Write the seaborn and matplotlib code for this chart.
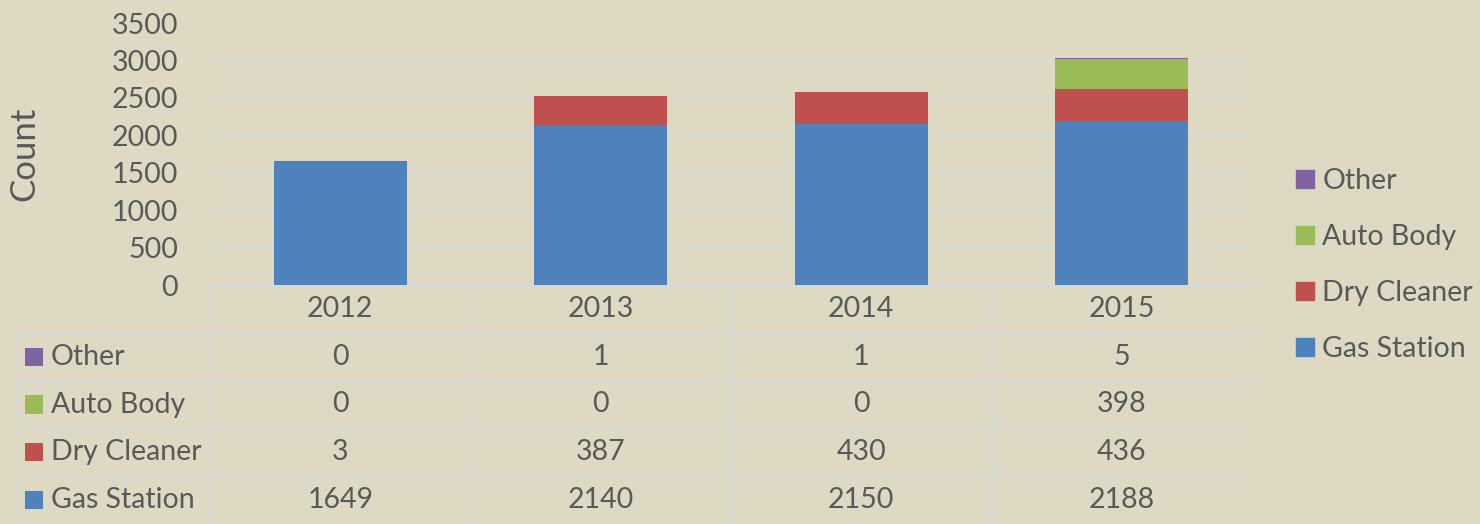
import numpy as np
import pandas as pd
import matplotlib
matplotlib.use("Agg")
import matplotlib.pyplot as plt
import matplotlib.patches as mpatches
import seaborn as sns

years = ["2012", "2013", "2014", "2015"]
gas_station = [1649, 2140, 2150, 2188]
dry_cleaner = [3, 387, 430, 436]
auto_body = [0, 0, 0, 398]
other = [0, 1, 1, 5]

series_names = ["Gas Station", "Dry Cleaner", "Auto Body", "Other"]
series_colors = ["#4F81BD", "#C0504D", "#9BBB59", "#8064A2"]

bg = "#DDD9C3"
grid_col = "#D9D9D9"
text_col = "#595959"
fs = 20.5

sns.set_style("white", {"axes.facecolor": bg, "figure.facecolor": bg})
plt.rcParams["font.family"] = ["Lato", "DejaVu Sans"]
plt.rcParams["text.color"] = text_col

df = pd.DataFrame({"year": years, "Gas Station": gas_station,
                   "Dry Cleaner": dry_cleaner, "Auto Body": auto_body,
                   "Other": other})

fig = plt.figure(figsize=(14.8, 5.24), dpi=100)
fig.patch.set_facecolor(bg)

W, H = 1480.0, 524.0
left_px, right_px, top_px, zero_px = 210, 1252, 23, 285
ax = fig.add_axes([left_px / W, (H - zero_px) / H,
                   (right_px - left_px) / W, (zero_px - top_px) / H])
ax.set_facecolor(bg)

# stacked bars: draw cumulative totals from top layer down
cum = df[series_names].cumsum(axis=1)
for name, col in reversed(list(zip(series_names, series_colors))):
    sns.barplot(x=df["year"], y=cum[name], color=col, saturation=1,
                width=0.51, errorbar=None, ax=ax, zorder=3,
                edgecolor="none", linewidth=0)

ax.set_xlim(-0.5, len(years) - 0.5)
ax.set_ylim(0, 3500)
ax.set_yticks(np.arange(0, 3501, 500))
ax.yaxis.grid(True, color=grid_col, lw=1.5, zorder=0)
ax.set_axisbelow(True)
ax.tick_params(axis="y", length=0, pad=23, labelsize=fs, labelcolor=text_col)
ax.set_xticks([])
ax.set_xlabel("")
ax.set_ylabel("Count", fontsize=25, color=text_col)
ax.yaxis.set_label_coords(-0.163, 0.5)
for s in ax.spines.values():
    s.set_visible(False)

# data table below the plot, sharing the category x-scale
col_w = (right_px - left_px) / len(years)
tab_left = 15
tab = fig.add_axes([tab_left / W, 0, (right_px - tab_left) / W, (H - zero_px) / H])
tab.set_facecolor(bg)
x0 = -0.5 - (left_px - tab_left) / col_w
tab.set_xlim(x0, len(years) - 0.5)
tab.set_ylim(5, 0)
tab.axis("off")

lc = dict(color=grid_col, lw=1.8)
tab.plot([-0.5, len(years) - 0.5], [0, 0], **lc)
for i in range(len(years) + 1):
    tab.plot([i - 0.5, i - 0.5], [0, 5], **lc)
tab.plot([x0, x0], [1, 5], **lc)
for r in range(1, 5):
    tab.plot([x0, len(years) - 0.5], [r, r], **lc)

for i, y in enumerate(years):
    tab.text(i, 0.5, y, ha="center", va="center", fontsize=fs, color=text_col)

rows = list(zip(reversed(series_names), reversed(series_colors)))
sq = 18 / col_w
for r, (name, col) in enumerate(rows, start=1):
    tab.add_patch(mpatches.Rectangle((x0 + 10 / col_w, r + 0.5 - 0.19), sq, 0.38,
                                     facecolor=col, edgecolor="none"))
    tab.text(x0 + 36 / col_w, r + 0.5, name, ha="left", va="center",
             fontsize=fs, color=text_col)
    for i, v in enumerate(df[name]):
        tab.text(i, r + 0.5, str(v), ha="center", va="center",
                 fontsize=fs, color=text_col)

handles = [mpatches.Patch(color=c, label=n) for n, c in rows]
fig.legend(handles=handles, loc="center left",
           bbox_to_anchor=(1296 / W, (H - 265) / H), frameon=False,
           borderaxespad=0, borderpad=0,
           fontsize=fs, labelcolor=text_col, handlelength=0.62,
           handleheight=0.62, handletextpad=0.3, labelspacing=1.05)

fig.savefig("out.png", dpi=100, facecolor=bg)
